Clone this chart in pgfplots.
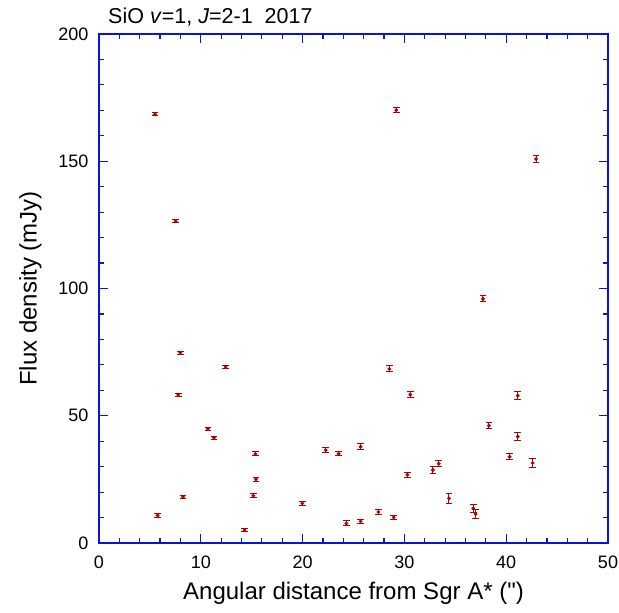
\documentclass[border=0pt]{standalone}
\usepackage{fontspec}
\setmainfont{Liberation Sans}
\newfontfamily\qfont{Liberation Sans}[Ligatures=TeXOff]
\usepackage{pgfplots}
\pgfplotsset{compat=1.18}
\usepackage{pgfplotstable}
\definecolor{axblue}{HTML}{0A14D8}
\definecolor{ptred}{HTML}{B00000}
\pgfplotstableread{
x y e
5.5 168.4 0.6
7.53 126.4 0.6
7.99 74.8 0.6
12.44 69.2 0.7
7.79 58.3 0.6
10.7 44.9 0.6
11.3 41.4 0.6
15.36 35.0 0.8
15.42 25.1 0.8
15.16 18.6 0.8
8.25 18.1 0.6
5.76 10.8 0.6
14.3 5.1 0.7
29.2 170.1 0.9
42.93 150.9 1.5
37.72 95.9 1.2
28.52 68.4 1.2
30.58 58.3 1.2
41.13 57.9 1.7
38.3 46.1 1.3
41.13 41.8 1.6
22.27 36.5 1.0
23.54 35.1 0.8
25.7 37.8 1.2
40.34 33.9 1.2
42.6 31.4 1.8
33.37 31.2 1.2
32.8 28.7 1.2
30.29 26.8 0.9
34.38 17.5 1.8
19.97 15.6 0.8
27.44 12.2 1.1
36.77 13.6 1.6
37.0 11.4 1.6
28.95 10.1 0.8
25.7 8.5 0.9
24.3 7.7 1.0
}\datatable
\begin{document}
\begin{tikzpicture}
\begin{axis}[
  scale only axis,
  width=509pt, height=509pt,
  xmin=0, xmax=50, ymin=0, ymax=200,
  xtick={0,10,...,50}, ytick={0,50,...,200},
  minor x tick num=4, minor y tick num=4,
  tick align=inside, tick pos=both,
  major tick length=9pt, minor tick length=5pt,
  axis line style={axblue, line width=1.2pt},
  every tick/.style={axblue, line width=1.2pt},
  tick label style={font=\fontsize{18}{21}\selectfont, text=black},
  /pgf/number format/assume math mode=true,
  xticklabel style={yshift=-9pt},
  yticklabel style={xshift=-7pt},
  xlabel={Angular distance from Sgr A* ({\qfont "})},
  ylabel={Flux density (mJy)},
  label style={font=\fontsize{24}{28}\selectfont},
  xlabel style={yshift=-7pt},
  ylabel style={yshift=10pt},
  clip=false,
]
\addplot[only marks, mark=*, mark size=1.7pt, color=ptred,
  error bars/.cd, y dir=both, y explicit,
  error bar style={ptred, line width=1pt},
  error mark options={rotate=90, mark size=3.3pt, ptred, line width=1pt}]
  table[x=x, y=y, y error=e] {\datatable};
\node[anchor=south west, inner sep=0pt, font=\fontsize{21.5}{25}\selectfont]
  at (rel axis cs:0,1) [xshift=9pt, yshift=8pt] {SiO \textit{v}=1, \textit{J}=2-1\ \ 2017};
\end{axis}
\pgfresetboundingbox
\path ([xshift=-99pt,yshift=-69pt]current axis.south west) rectangle ([xshift=11pt,yshift=34pt]current axis.north east);
\end{tikzpicture}
\end{document}
